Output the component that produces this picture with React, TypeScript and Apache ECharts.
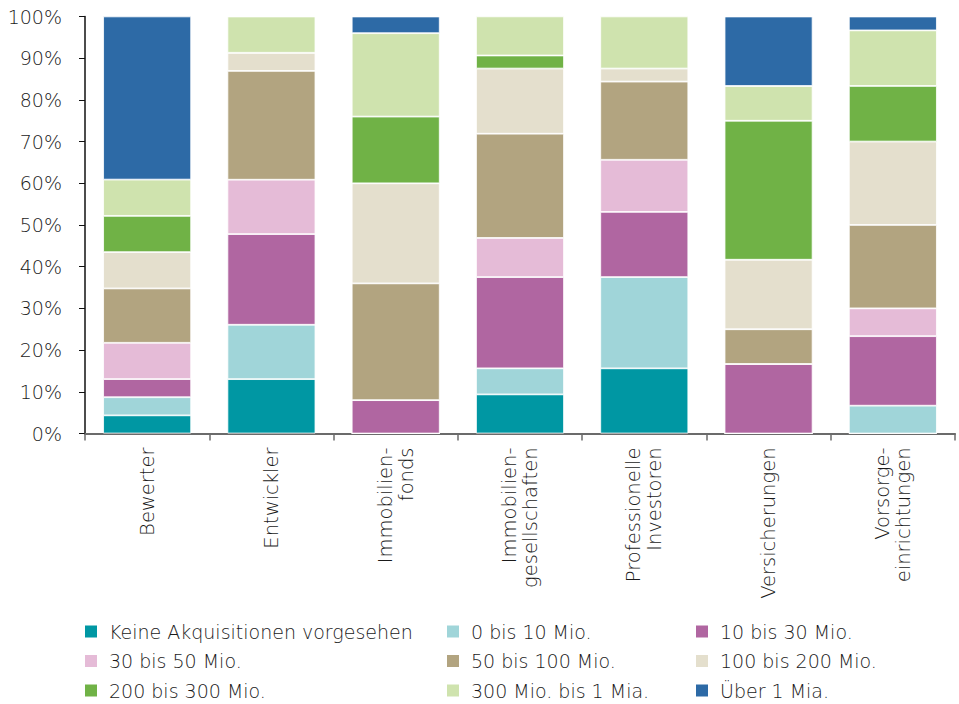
import React, { useEffect, useRef } from "react";
import * as echarts from "echarts";

// Investor groups on the x axis
const categories = [
  "Bewerter",
  "Entwickler",
  "Immobilien-\nfonds",
  "Immobilien-\ngesellschaften",
  "Professionelle\nInvestoren",
  "Versicherungen",
  "Vorsorge-\neinrichtungen",
];

// Share of respondents per planned acquisition volume (in %)
const keineAkquisitionen = [4.35, 13.04, 0, 9.38, 15.63, 0, 0];
const bis10Mio = [4.35, 13.04, 0, 6.25, 21.88, 0, 6.67];
const bis30Mio = [4.35, 21.74, 8, 21.88, 15.63, 16.67, 16.67];
const bis50Mio = [8.7, 13.04, 0, 9.38, 12.5, 0, 6.67];
const bis100Mio = [13.04, 26.09, 28, 25, 18.75, 8.33, 20];
const bis200Mio = [8.7, 4.35, 24, 15.63, 3.13, 16.67, 20];
const bis300Mio = [8.7, 0, 16, 3.13, 0, 33.33, 13.33];
const bis1Mia = [8.7, 8.7, 20, 9.38, 12.5, 8.33, 13.33];
const ueber1Mia = [39.13, 0, 4, 0, 0, 16.67, 3.33];

const seriesNames = [
  "Keine Akquisitionen vorgesehen",
  "0 bis 10 Mio.",
  "10 bis 30 Mio.",
  "30 bis 50 Mio.",
  "50 bis 100 Mio.",
  "100 bis 200 Mio.",
  "200 bis 300 Mio.",
  "300 Mio. bis 1 Mia.",
  "Über 1 Mia.",
];
const seriesValues = [
  keineAkquisitionen,
  bis10Mio,
  bis30Mio,
  bis50Mio,
  bis100Mio,
  bis200Mio,
  bis300Mio,
  bis1Mia,
  ueber1Mia,
];
const seriesColors = [
  "#0097A3",
  "#A0D5D9",
  "#B066A1",
  "#E5BBD7",
  "#B2A480",
  "#E4DFCD",
  "#70B246",
  "#CFE3AE",
  "#2D6AA6",
];

const FONT = "'DejaVu Sans', 'Liberation Sans', Arial, sans-serif";
const WEIGHT = 200;
const TEXT_COLOR = "#1a1a1a";

export default function App() {
  const ref = useRef<HTMLDivElement>(null);

  useEffect(() => {
    if (!ref.current) return;
    const chart = echarts.init(ref.current, null, { renderer: "svg" });

    const legendColumn = (names: string[], left: number) => ({
      data: names,
      orient: "vertical" as const,
      left,
      top: 617,
      height: 90,
      itemWidth: 14,
      itemHeight: 14,
      itemGap: 10.5,
      icon: "rect",
      selectedMode: false,
      textStyle: {
        fontFamily: FONT,
        fontWeight: WEIGHT,
        fontSize: 19,
        color: TEXT_COLOR,
        padding: [0, 0, 0, 6],
      },
    });

    chart.setOption({
      animation: false,
      textStyle: { fontFamily: FONT },
      grid: { left: 85, right: 4, top: 16.5, bottom: 270.5, containLabel: false },
      legend: [
        legendColumn([seriesNames[0], seriesNames[3], seriesNames[6]], 78),
        legendColumn([seriesNames[1], seriesNames[4], seriesNames[7]], 440),
        legendColumn([seriesNames[2], seriesNames[5], seriesNames[8]], 689),
      ],
      xAxis: {
        type: "category",
        data: categories,
        axisLine: { lineStyle: { color: "#6b6b6b", width: 2 } },
        axisTick: { show: true, length: 7, lineStyle: { color: "#6b6b6b", width: 1.5 } },
        axisLabel: {
          rotate: 90,
          margin: 14,
          fontFamily: FONT,
          fontWeight: WEIGHT,
          fontSize: 19.5,
          lineHeight: 21,
          color: TEXT_COLOR,
          interval: 0,
        },
      },
      yAxis: {
        type: "value",
        min: 0,
        max: 100,
        interval: 10,
        axisLine: { show: true, lineStyle: { color: "#111", width: 1.5 } },
        axisTick: { show: true, length: 6, lineStyle: { color: "#111", width: 1 } },
        splitLine: { show: false },
        axisLabel: {
          formatter: "{value}%",
          margin: 23,
          fontFamily: FONT,
          fontWeight: WEIGHT,
          fontSize: 19,
          color: TEXT_COLOR,
        },
      },
      series: seriesNames.map((name, i) => ({
        name,
        type: "bar",
        stack: "total",
        barWidth: 88,
        data: seriesValues[i],
        itemStyle: { color: seriesColors[i], borderColor: "#ffffff", borderWidth: 0.8 },
        emphasis: { disabled: true },
      })),
    });

    return () => chart.dispose();
  }, []);

  return <div ref={ref} style={{ width: 959, height: 704, position: "absolute", left: 0, top: 0 }} />;
}
